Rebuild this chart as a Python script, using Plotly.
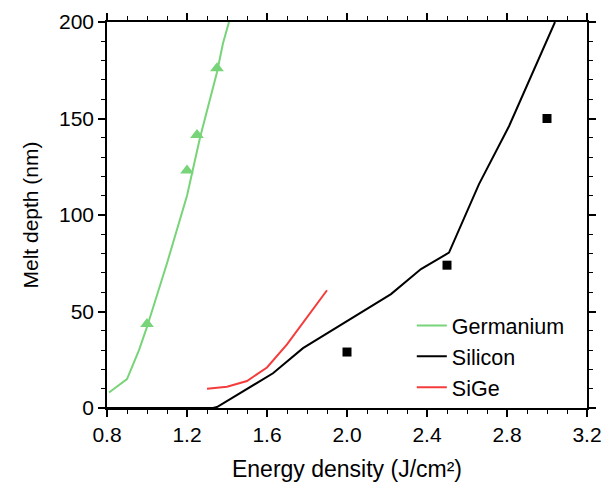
import plotly.graph_objects as go

# Germanium simulation line
ge_x = [0.81, 0.90, 0.96, 1.00, 1.10, 1.20, 1.265, 1.30, 1.35, 1.38, 1.41]
ge_y = [8, 15, 30, 42, 75, 110, 140, 154, 174, 189, 200]
# Germanium measured points
ge_pt_x = [1.00, 1.20, 1.25, 1.35]
ge_pt_y = [43.5, 123, 141.5, 176]

# Silicon simulation line
si_x = [0.80, 1.33, 1.35, 1.63, 1.78, 2.22, 2.37, 2.51, 2.66, 2.81, 3.04]
si_y = [0, 0, 0.5, 18, 31, 59, 72, 80.5, 116, 146, 200]
# Silicon measured points
si_pt_x = [2.0, 2.5, 3.0]
si_pt_y = [29, 74, 150]

# SiGe simulation line
sige_x = [1.3, 1.4, 1.5, 1.6, 1.7, 1.8, 1.9]
sige_y = [10, 11, 14, 21, 33, 47, 61]

x_ticks = [0.8, 1.2, 1.6, 2.0, 2.4, 2.8, 3.2]
x_ticklabels = ["0.8", "1.2", "1.6", "2.0", "2.4", "2.8", "3.2"]
y_ticks = [0, 50, 100, 150, 200]

GREEN = "rgb(120,212,120)"
RED = "rgb(245,60,60)"
BLACK = "black"
FONT = "Arial, Liberation Sans, sans-serif"

fig = go.Figure()
fig.add_trace(go.Scatter(x=ge_x, y=ge_y, mode="lines", name="Germanium",
                         line=dict(color=GREEN, width=2)))
fig.add_trace(go.Scatter(x=si_x, y=si_y, mode="lines", name="Silicon",
                         line=dict(color=BLACK, width=2)))
fig.add_trace(go.Scatter(x=sige_x, y=sige_y, mode="lines", name="SiGe",
                         line=dict(color=RED, width=2)))
fig.add_trace(go.Scatter(x=ge_pt_x, y=ge_pt_y, mode="markers", showlegend=False,
                         marker=dict(symbol="triangle-up", size=12, color=GREEN)))
fig.add_trace(go.Scatter(x=si_pt_x, y=si_pt_y, mode="markers", showlegend=False,
                         marker=dict(symbol="square", size=9, color=BLACK)))

axis_common = dict(
    showline=True, linecolor="black", linewidth=1.5, mirror="allticks",
    ticks="outside", ticklen=7, tickwidth=1.5, tickcolor="black",
    showgrid=False, zeroline=False, automargin=False,
    tickfont=dict(family=FONT, size=21, color="black"),
)

fig.update_xaxes(
    range=[0.8, 3.2], tickvals=x_ticks, ticktext=x_ticklabels,
    title=dict(text="Energy density (J/cm²)", font=dict(family=FONT, size=23, color="black"), standoff=22),
    minor=dict(dtick=0.1, tick0=0.8, ticks="outside", ticklen=4, tickwidth=1, tickcolor="black"),
    **axis_common,
)
fig.update_yaxes(
    range=[0, 200], tickvals=y_ticks,
    title=dict(text="Melt depth (nm)", font=dict(family=FONT, size=21, color="black"), standoff=15),
    minor=dict(dtick=10, tick0=0, ticks="outside", ticklen=4, tickwidth=1, tickcolor="black"),
    **axis_common,
)

fig.update_layout(
    width=605, height=482,
    margin=dict(l=107, r=18, t=22, b=74),
    plot_bgcolor="white", paper_bgcolor="white",
    font=dict(family=FONT, color="black"),
    legend=dict(x=0.635, y=0.267, xanchor="left", yanchor="top",
                bgcolor="rgba(0,0,0,0)", borderwidth=0,
                font=dict(family=FONT, size=21.5, color="black"),
                tracegroupgap=0),
)

fig.write_html(
    "out.html",
    config={"displayModeBar": False},
    post_script="document.body.style.margin='0';document.body.style.overflow='hidden';",
)
